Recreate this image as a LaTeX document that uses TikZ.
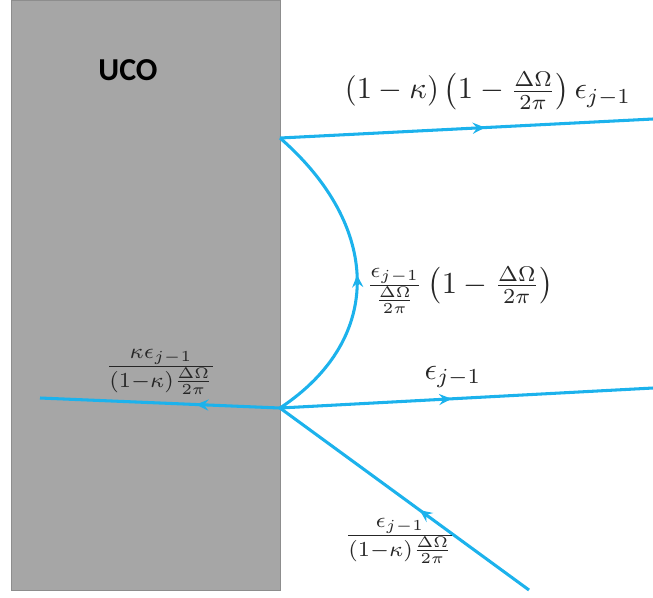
\documentclass[tikz,border=0pt]{standalone}
\usepackage{fontspec}
\newfontfamily\labelfont{Carlito}
\usetikzlibrary{positioning, arrows.meta, decorations.markings}
\definecolor{beam}{RGB}{28,178,236}
\definecolor{ucogray}{RGB}{166,166,166}
\newcommand\mlabel[1]{\scalebox{1.1}{$#1$}}

\begin{document}
\begin{tikzpicture}[
  x=0.36pt, y=-0.36pt,
  every node/.style={inner sep=0pt},
  maths/.style={text=black!85},
  beamline/.style={draw=beam, line width=1.1pt},
  midarrow/.style={
    postaction={decorate},
    decoration={markings,
      mark=at position #1 with {\arrow[beam]{Stealth[length=4.5pt, width=4pt, inset=1.6pt]}}},
  },
]
  \useasboundingbox (0,0) rectangle (653,597);
  % the UCO block
  \fill[ucogray, draw=ucogray!85!black, line width=0.3pt] (11,0) rectangle (280,590);
  \node[font=\labelfont\fontsize{11.5}{14}\selectfont\bfseries] (uco) at (128,70) {UCO};

  % points on the surface and free ends
  \coordinate (top)    at (280,138);
  \coordinate (bot)    at (280,408);
  \coordinate (outtop) at (653,119);
  \coordinate (outmid) at (653,388);
  \coordinate (back)   at (40,398);
  \coordinate (inc)    at (529,590);

  \draw[beamline, midarrow=0.55] (top) -- (outtop);
  \draw[beamline, midarrow=0.5]  (bot) .. controls (386,338) and (380,225) .. (top);
  \draw[beamline, midarrow=0.46] (bot) -- (outmid);
  \draw[beamline, midarrow=0.35] (bot) -- (back);
  \draw[beamline, midarrow=0.44] (inc) -- (bot);

  % labels
  \node[maths] (ltop) at (488,91)  {\mlabel{(1-\kappa)\left(1-\frac{\Delta\Omega}{2\pi}\right)\epsilon_{j-1}}};
  \node[maths] (lcur) at (460,290) {\mlabel{\frac{\epsilon_{j-1}}{\frac{\Delta\Omega}{2\pi}}\left(1-\frac{\Delta\Omega}{2\pi}\right)}};
  \node[maths] (lmid) at (453,377) {\mlabel{\epsilon_{j-1}}};
  \node[maths] (lbck) at (161,372) {\mlabel{\frac{\kappa\epsilon_{j-1}}{(1-\kappa)\frac{\Delta\Omega}{2\pi}}}};
  \node[maths] (linc) at (400,541) {\mlabel{\frac{\epsilon_{j-1}}{(1-\kappa)\frac{\Delta\Omega}{2\pi}}}};
\end{tikzpicture}
\end{document}
